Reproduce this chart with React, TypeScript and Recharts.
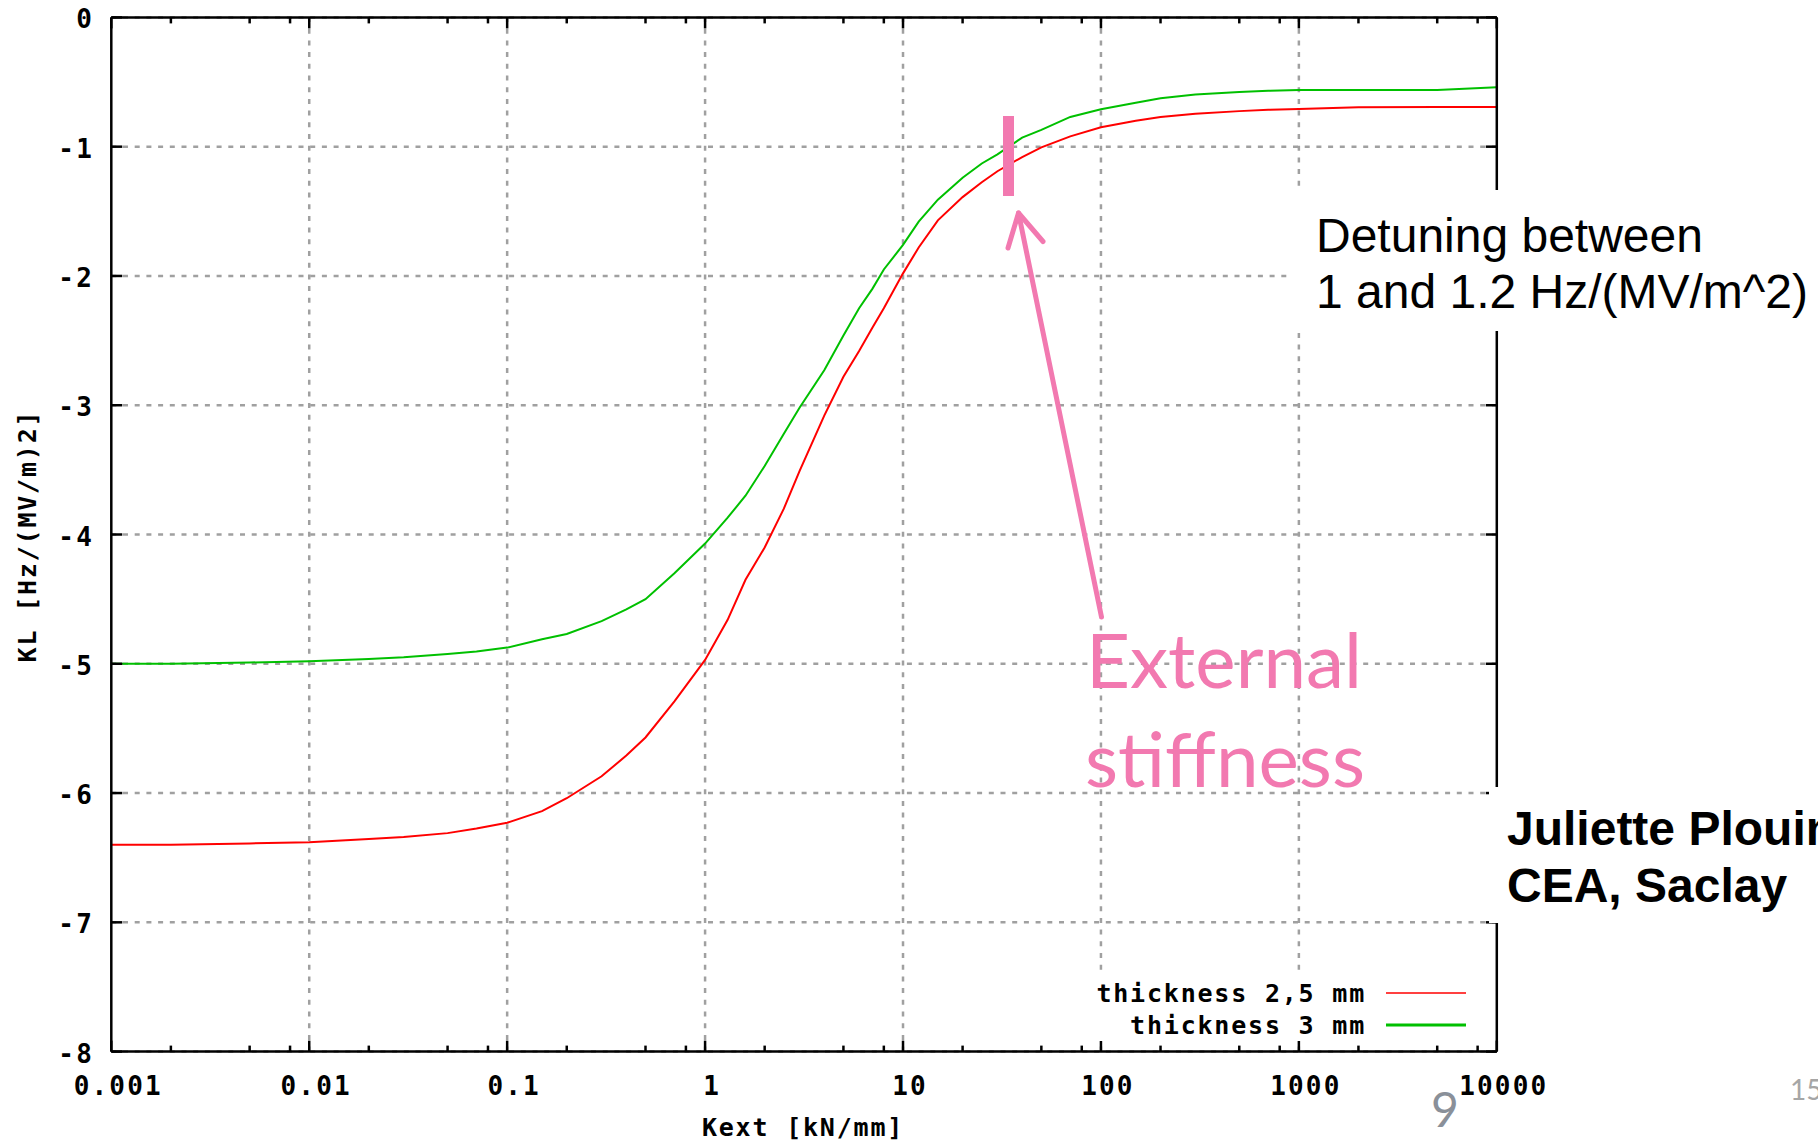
import React from 'react';
import { LineChart, Line, XAxis, YAxis, CartesianGrid, ReferenceLine } from 'recharts';

// ---------- data ----------
const K_VALUES = [0.001, 0.002, 0.005, 0.01, 0.02, 0.03, 0.05, 0.07, 0.1, 0.15, 0.2, 0.3, 0.4, 0.5, 0.7, 1, 1.3, 1.6, 2, 2.5, 3, 4, 5, 6, 7, 8, 10, 12, 15, 20, 25, 30, 40, 50, 70, 100, 150, 200, 300, 500, 700, 1000, 2000, 5000, 10000];
const KL_THICK_25 = [-6.40, -6.40, -6.39, -6.38, -6.355, -6.34, -6.31, -6.275, -6.23, -6.14, -6.04, -5.87, -5.71, -5.57, -5.29, -4.97, -4.66, -4.35, -4.10, -3.80, -3.51, -3.08, -2.78, -2.58, -2.40, -2.25, -1.98, -1.78, -1.57, -1.39, -1.275, -1.19, -1.08, -1.005, -0.92, -0.85, -0.80, -0.77, -0.745, -0.725, -0.715, -0.708, -0.695, -0.693, -0.693];
const KL_THICK_3 = [-5.00, -5.00, -4.99, -4.98, -4.963, -4.95, -4.925, -4.905, -4.875, -4.81, -4.77, -4.67, -4.58, -4.50, -4.30, -4.07, -3.87, -3.70, -3.47, -3.22, -3.02, -2.73, -2.46, -2.25, -2.10, -1.95, -1.76, -1.58, -1.41, -1.24, -1.13, -1.06, -0.93, -0.87, -0.77, -0.71, -0.66, -0.625, -0.597, -0.578, -0.568, -0.561, -0.561, -0.561, -0.54];

const X_MAJOR_TICKS = [0.001, 0.01, 0.1, 1, 10, 100, 1000, 10000];
const X_TICK_LABELS = ['0.001', '0.01', '0.1', '1', '10', '100', '1000', '10000'];
const X_MINOR_TICKS = [0.002, 0.005, 0.008, 0.02, 0.05, 0.08, 0.2, 0.5, 0.8, 2, 5, 8, 20, 50, 80, 200, 500, 800, 2000, 5000, 8000];
const Y_TICKS = [0, -1, -2, -3, -4, -5, -6, -7, -8];

const SERIES_NAMES = ['thickness 2,5 mm', 'thickness 3 mm'];
const SERIES_KEYS = ['t25', 't3'];
const SERIES_COLORS = ['#ff0000', '#00c000'];

const X_LABEL = 'Kext [kN/mm]';
const Y_LABEL = 'KL [Hz/(MV/m)2]';

const rows = K_VALUES.map((k, i) => ({ k, t25: KL_THICK_25[i], t3: KL_THICK_3[i] }));
const X_ALL_TICKS = [...X_MAJOR_TICKS, ...X_MINOR_TICKS].sort((a, b) => a - b);

// ---------- layout ----------
const W = 1818;
const H = 1142;
const PLOT = { left: 111.3, top: 17.4, right: 1496.8, bottom: 1051.6 };
const Y_AXIS_W = 100;
const X_AXIS_H = 60;

const MONO: React.CSSProperties = {
  fontFamily: '"DejaVu Sans Mono", monospace',
  fontWeight: 'bold',
  fontSize: 25,
  letterSpacing: 1.8,
};
const TICK_FONT: React.CSSProperties = { ...MONO, fontSize: 26, letterSpacing: 2.2 };
const PINK = '#f279b0';
const GRID = '#a0a0a0';
const DASH = '5 6.7';

const XTick = (props: any) => {
  const { x, payload } = props;
  const v = payload.value;
  const idx = X_MAJOR_TICKS.indexOf(v);
  const major = idx >= 0;
  const len = major ? 11 : 6;
  return (
    <g>
      <line x1={x} x2={x} y1={PLOT.bottom} y2={PLOT.bottom - len} stroke="#000" strokeWidth={2.5} />
      <line x1={x} x2={x} y1={PLOT.top} y2={PLOT.top + len} stroke="#000" strokeWidth={2.5} />
      {major && (
        <text x={x + 7} y={1095} textAnchor="middle" fill="#000" style={TICK_FONT}>
          {X_TICK_LABELS[idx]}
        </text>
      )}
    </g>
  );
};

const YTick = (props: any) => {
  const { y, payload } = props;
  return (
    <g>
      <line x1={PLOT.left} x2={PLOT.left + 11} y1={y} y2={y} stroke="#000" strokeWidth={2.5} />
      <line x1={PLOT.right - 11} x2={PLOT.right} y1={y} y2={y} stroke="#000" strokeWidth={2.5} />
      <text x={94} y={y + 11} textAnchor="end" fill="#000" style={TICK_FONT}>
        {String(payload.value)}
      </text>
    </g>
  );
};

export default function App() {
  return (
    <div style={{ position: 'absolute', left: 0, top: 0, width: W, height: H, background: '#fff', overflow: 'hidden' }}>
      <LineChart
        width={W}
        height={H}
        data={rows}
        margin={{ top: PLOT.top, right: W - PLOT.right, bottom: H - PLOT.bottom - X_AXIS_H, left: PLOT.left - Y_AXIS_W }}
      >
        <CartesianGrid vertical={false} stroke={GRID} strokeDasharray={DASH} strokeWidth={2.5} />
        {X_MAJOR_TICKS.slice(1, -1).map((v) => (
          <ReferenceLine key={'g' + v} x={v} stroke={GRID} strokeDasharray={DASH} strokeWidth={2.5} />
        ))}
        <XAxis
          dataKey="k"
          type="number"
          scale="log"
          domain={[0.001, 10000]}
          ticks={X_ALL_TICKS}
          interval={0}
          allowDataOverflow
          height={X_AXIS_H}
          axisLine={false}
          tickLine={false}
          tick={XTick}
        />
        <YAxis
          type="number"
          domain={[-8, 0]}
          ticks={Y_TICKS}
          interval={0}
          width={Y_AXIS_W}
          axisLine={false}
          tickLine={false}
          tick={YTick}
        />
        {SERIES_KEYS.map((key, i) => (
          <Line
            key={key}
            type="linear"
            dataKey={key}
            name={SERIES_NAMES[i]}
            stroke={SERIES_COLORS[i]}
            strokeWidth={2}
            dot={false}
            isAnimationActive={false}
          />
        ))}
        <ReferenceLine x={0.001} stroke="#000" strokeWidth={2.5} />
        <ReferenceLine x={10000} stroke="#000" strokeWidth={2.5} />
        <ReferenceLine y={0} stroke="#000" strokeWidth={2.5} />
        <ReferenceLine y={-8} stroke="#000" strokeWidth={2.5} />
      </LineChart>

      <svg width={W} height={H} style={{ position: 'absolute', left: 0, top: 0, pointerEvents: 'none' }}>
        {/* legend (gnuplot key) */}
        <rect x={1090} y={975} width={398} height={66} fill="#fff" />
        {SERIES_NAMES.map((name, i) => (
          <g key={name}>
            <text x={1366} y={1002 + i * 32} textAnchor="end" fill="#000" style={MONO}>{name}</text>
            <line x1={1386} x2={1466} y1={993 + i * 32} y2={993 + i * 32} stroke={SERIES_COLORS[i]} strokeWidth={i === 0 ? 1.6 : 3} />
          </g>
        ))}

        {/* axis titles */}
        <text x={803} y={1136} textAnchor="middle" fill="#000" style={MONO}>{X_LABEL}</text>
        <text x={0} y={0} transform="translate(36 536) rotate(-90)" textAnchor="middle" fill="#000" style={MONO}>{Y_LABEL}</text>

        {/* pink marker + arrow */}
        <rect x={1003} y={116} width={11} height={80} fill={PINK} />
        <line x1={1101.5} y1={617} x2={1018.5} y2={213} stroke={PINK} strokeWidth={5} strokeLinecap="round" />
        <polyline points="1008,248 1018.5,213 1043,241.5" fill="none" stroke={PINK} strokeWidth={5} strokeLinecap="round" strokeLinejoin="round" />
        <text x={1086} y={688} fill={PINK} textLength={276} lengthAdjust="spacingAndGlyphs" style={{ fontFamily: 'Lato, sans-serif', fontSize: 76 }}>External</text>
        <text x={1085} y={787} fill={PINK} textLength={280} lengthAdjust="spacingAndGlyphs" style={{ fontFamily: 'Lato, sans-serif', fontSize: 76 }}>stiffness</text>

        {/* detuning note */}
        <rect x={1292} y={190} width={526} height={141} fill="#fff" />
        <text x={1316} y={252} fill="#000" style={{ fontFamily: '"Liberation Sans", Arial, sans-serif', fontSize: 48 }}>Detuning between</text>
        <text x={1316} y={308} fill="#000" style={{ fontFamily: '"Liberation Sans", Arial, sans-serif', fontSize: 48 }}>1 and 1.2 Hz/(MV/m^2)</text>

        {/* author note */}
        <rect x={1489} y={787} width={329} height={136} fill="#fff" />
        <text x={1507} y={845} fill="#000" style={{ fontFamily: '"Liberation Sans", Arial, sans-serif', fontSize: 48, fontWeight: 'bold' }}>Juliette Plouin</text>
        <text x={1507} y={902} fill="#000" style={{ fontFamily: '"Liberation Sans", Arial, sans-serif', fontSize: 48, fontWeight: 'bold' }}>CEA, Saclay</text>

        {/* slide numbers */}
        <text x={1445} y={1127} textAnchor="middle" fill="#8a9099" style={{ fontFamily: 'Lato, sans-serif', fontSize: 48 }}>9</text>
        <text x={1790} y={1100} fill="#a6a6a6" style={{ fontFamily: 'Lato, sans-serif', fontSize: 28 }}>15</text>
      </svg>
    </div>
  );
}
